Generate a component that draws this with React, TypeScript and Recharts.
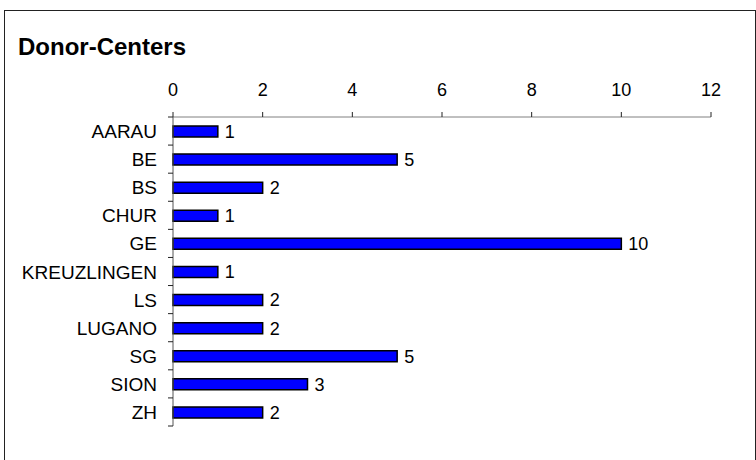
import { BarChart, Bar, XAxis, YAxis, LabelList } from 'recharts'

const centers = ['AARAU', 'BE', 'BS', 'CHUR', 'GE', 'KREUZLINGEN', 'LS', 'LUGANO', 'SG', 'SION', 'ZH']
const donors  = [1, 5, 2, 1, 10, 1, 2, 2, 5, 3, 2]
const xTicks  = [0, 2, 4, 6, 8, 10, 12]

const data = centers.map((name, i) => ({ name, value: donors[i] }))

const FONT = '"Liberation Sans", Arial, sans-serif'

function CenterTick(props: any) {
  const { x, y, payload, index, visibleTicksCount } = props
  const half = payload?.offset ?? 14
  const last = index === visibleTicksCount - 1
  return (
    <g>
      <line x1={x - 5} x2={x} y1={y - half} y2={y - half} stroke="#222" />
      {last && <line x1={x - 5} x2={x} y1={y + half} y2={y + half} stroke="#222" />}
      <text x={x - 16} y={y} dy={7} textAnchor="end" fontSize={19} fill="#000" fontFamily={FONT}>
        {payload.value}
      </text>
    </g>
  )
}

export default function App() {
  return (
    <div style={{ position: 'fixed', left: 0, top: 0, width: 756, height: 460, background: '#fff', overflow: 'hidden', fontFamily: FONT }}>
      <div style={{ position: 'absolute', left: 4, top: 10, width: 752, height: 480, border: '1.5px solid #222', boxSizing: 'border-box' }} />
      <div style={{ position: 'absolute', left: 18, top: 33, fontSize: 24, fontWeight: 'bold', color: '#000', lineHeight: '28px' }}>
        Donor-Centers
      </div>
      <div style={{ position: 'absolute', left: 0, top: 0 }}>
        <BarChart
          width={756}
          height={460}
          data={data}
          layout="vertical"
          margin={{ top: 77, right: 45, left: 13, bottom: 34 }}
        >
          <XAxis
            type="number"
            orientation="top"
            domain={[0, 12]}
            ticks={xTicks}
            height={40}
            interval={0}
            axisLine={{ stroke: '#808080' }}
            tickLine={{ stroke: '#222' }}
            tickSize={5}
            tickMargin={16}
            tick={{ fontSize: 18, fill: '#000', fontFamily: FONT }}
          />
          <YAxis
            type="category"
            dataKey="name"
            width={160}
            interval={0}
            axisLine={{ stroke: '#555' }}
            tickLine={false}
            tickSize={0}
            tickMargin={0}
            tick={<CenterTick />}
          />
          <Bar dataKey="value" fill="#0000FF" stroke="#000" strokeWidth={1.5} barSize={11} isAnimationActive={false}>
            <LabelList dataKey="value" position="right" offset={7} fontSize={18} fill="#000" fontFamily={FONT} />
          </Bar>
        </BarChart>
      </div>
    </div>
  )
}
